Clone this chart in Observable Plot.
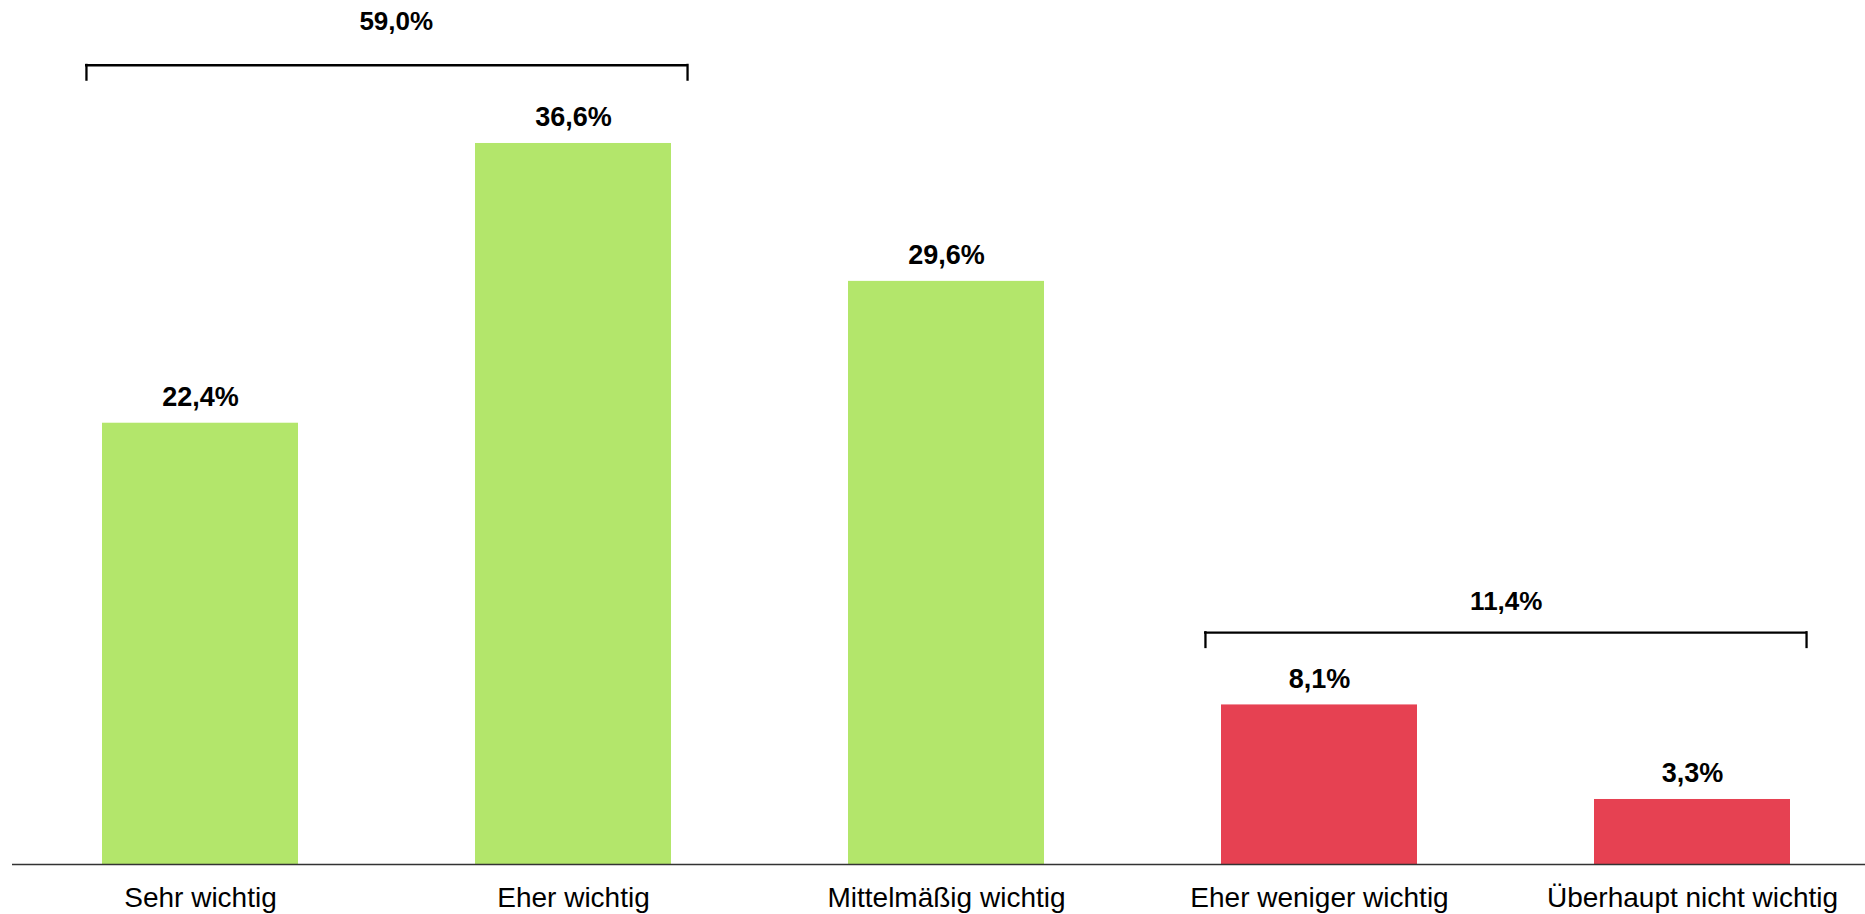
<!DOCTYPE html>
<html>
<head>
<meta charset="utf-8">
<script src="https://cdn.jsdelivr.net/npm/d3@7"></script>
<script src="https://cdn.jsdelivr.net/npm/@observablehq/plot@0.6"></script>
<style>
  html, body { margin: 0; padding: 0; background: #fff; }
  svg { display: block; }
</style>
</head>
<body>
<div id="chart"></div>
<script>
// ---- data ----
const categories = ["Sehr wichtig", "Eher wichtig", "Mittelmäßig wichtig", "Eher weniger wichtig", "Überhaupt nicht wichtig"];
const values = [22.4, 36.6, 29.6, 8.1, 3.3];
const groups = ["wichtig", "wichtig", "wichtig", "unwichtig", "unwichtig"];
const bracketFrom = ["Sehr wichtig", "Eher weniger wichtig"];
const bracketTo = ["Eher wichtig", "Überhaupt nicht wichtig"];
const bracketTotals = [59.0, 11.4];

// ---- layout / style ----
const W = 1865, H = 914;
const FONT = "'Liberation Sans', Arial, Helvetica, sans-serif";
const xOpts = {domain: categories, range: [12, W], paddingInner: 0.475, paddingOuter: 0.218, align: 0.546};
const xb = d3.scaleBand().domain(categories).range(xOpts.range)
  .paddingInner(xOpts.paddingInner).paddingOuter(xOpts.paddingOuter).align(xOpts.align);
const bw = xb.bandwidth(), step = xb.step();

const fmt = v => v.toFixed(1).replace(".", ",") + "%";

const data = categories.map((c, i) => ({cat: c, value: values[i], group: groups[i]}));

const bracketStyle = [{rise: 3.97, gap: 35, dx: 9}, {rise: 3.67, gap: 23, dx: 0}];
const brackets = bracketFrom.map((f, i) => {
  const i0 = categories.indexOf(f), i1 = categories.indexOf(bracketTo[i]);
  const maxV = d3.max(values.slice(i0, i1 + 1));
  return {from: f, to: bracketTo[i], total: bracketTotals[i], level: maxV + bracketStyle[i].rise, span: i1 - i0};
});

const bracketMarks = brackets.flatMap((b, i) => [
  Plot.ruleY([b], {x1: "from", x2: "to", y: "level", insetLeft: -17, insetRight: -17, stroke: "#000", strokeWidth: 2.3}),
  Plot.ruleX([b], {x: "from", y1: "level", y2: "level", dx: -(bw / 2 + 16), insetTop: -1, insetBottom: -16, stroke: "#000", strokeWidth: 2.3}),
  Plot.ruleX([b], {x: "to", y1: "level", y2: "level", dx: (bw / 2 + 16), insetTop: -1, insetBottom: -16, stroke: "#000", strokeWidth: 2.3}),
  Plot.text([b], {x: "from", y: "level", text: d => fmt(d.total), dx: b.span * step / 2 + bracketStyle[i].dx,
    dy: -bracketStyle[i].gap, lineAnchor: "bottom", fontSize: 26, fontWeight: "bold", fill: "#000"})
]);

const chart = Plot.plot({
  width: W,
  height: H,
  marginLeft: 12,
  marginRight: 0,
  marginTop: 0,
  marginBottom: 50,
  style: {fontFamily: FONT, fontSize: "28px", color: "#000", background: "#fff"},
  x: {type: "band", ...xOpts, label: null},
  y: {domain: [0, 864 / 19.7], axis: null},
  color: {domain: ["wichtig", "unwichtig"], range: ["#b3e66b", "#e64152"]},
  marks: [
    Plot.barY(data, {x: "cat", y: "value", fill: "group"}),
    Plot.ruleY([0], {stroke: "#333", strokeWidth: 1.5}),
    Plot.text(data, {x: "cat", y: "value", text: d => fmt(d.value), dy: -17, lineAnchor: "bottom",
      fontSize: 27, fontWeight: "bold", fill: "#000"}),
    Plot.axisX({tickSize: 0, tickPadding: 23, fontSize: 28, fill: "#000", label: null}),
    ...bracketMarks
  ]
});
document.getElementById("chart").appendChild(chart);
</script>
</body>
</html>
